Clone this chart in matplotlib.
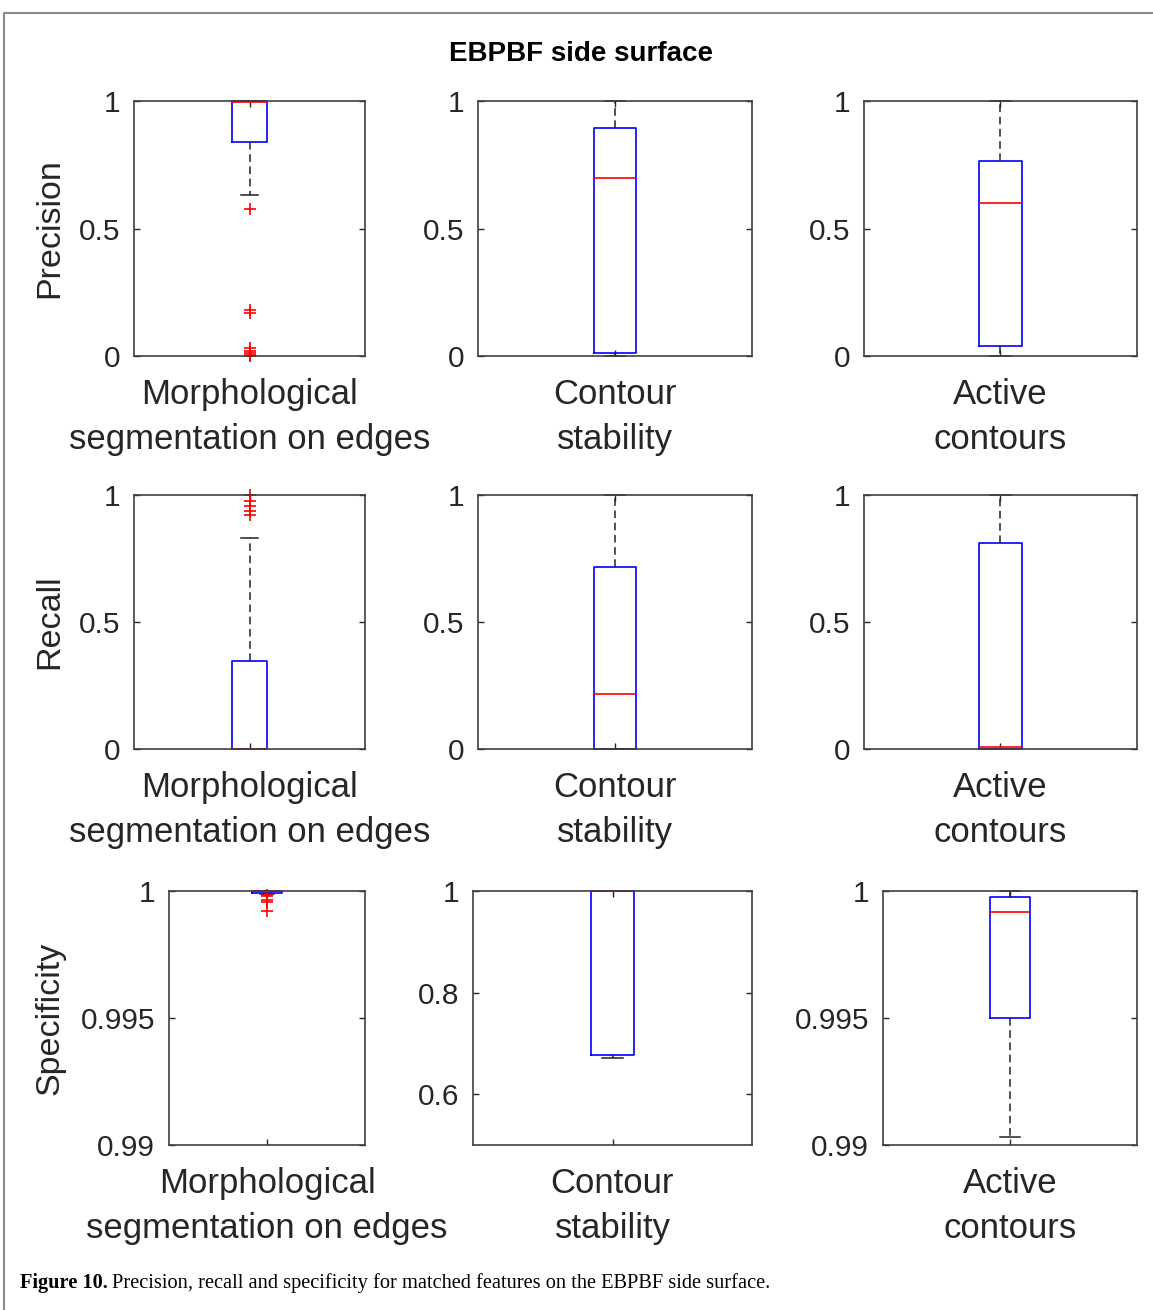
import numpy as np
import matplotlib.pyplot as plt
from matplotlib.lines import Line2D

# box statistics per metric, one entry per method
methods = ["Morphological\nsegmentation on edges", "Contour\nstability", "Active\ncontours"]
metrics = ["Precision", "Recall", "Specificity"]

prec_med = [0.995, 0.70, 0.60]
prec_q1 = [0.84, 0.012, 0.04]
prec_q3 = [1.0, 0.895, 0.765]
prec_lo = [0.63, 0.0, 0.0]
prec_hi = [1.0, 1.0, 1.0]
prec_out = [[0.575, 0.18, 0.17, 0.03, 0.02, 0.012, 0.005, 0.0], [], []]

rec_med = [0.0, 0.217, 0.008]
rec_q1 = [0.0, 0.0, 0.0]
rec_q3 = [0.345, 0.716, 0.81]
rec_lo = [0.0, 0.0, 0.0]
rec_hi = [0.83, 1.0, 1.0]
rec_out = [[1.0, 0.978, 0.957, 0.938, 0.92], [], []]

spec_med = [1.0, 1.0, 0.99916]
spec_q1 = [0.99993, 0.678, 0.9950]
spec_q3 = [1.0, 1.0, 0.99978]
spec_lo = [0.9999, 0.672, 0.99033]
spec_hi = [1.0, 1.0, 1.0]
spec_out = [[0.99985, 0.9998, 0.99965, 0.99958, 0.99922], [], []]

prec_ylim = [(0, 1), (0, 1), (0, 1)]
rec_ylim = [(0, 1), (0, 1), (0, 1)]
spec_ylim = [(0.99, 1), (0.5, 1), (0.99, 1)]
ticks_01 = [0, 0.5, 1]
tick_labels_01 = ["0", "0.5", "1"]
spec_ticks = [[0.99, 0.995, 1], [0.6, 0.8, 1], [0.99, 0.995, 1]]
spec_tick_labels = [["0.99", "0.995", "1"], ["0.6", "0.8", "1"], ["0.99", "0.995", "1"]]

W, H = 1153, 1310
fig = plt.figure(figsize=(W / 100, H / 100), dpi=100)
plt.rcParams['font.family'] = ['Liberation Sans', 'DejaVu Sans']

# axes boxes in pixels: (left, top, right, bottom)
rows_px = [(101, 356), (495, 749), (891, 1145)]
cols_px = [[(134, 365), (478, 752), (864, 1137)],
           [(134, 365), (478, 752), (864, 1137)],
           [(169, 365), (473, 752), (883, 1137)]]


def px_axes(l, t, r, b):
    return fig.add_axes([l / W, 1 - b / H, (r - l) / W, (b - t) / H])


def draw_box(ax, med, q1, q3, lo, hi, out, ylim, ticks, tlabels, xlabel):
    stats = [dict(med=med, q1=q1, q3=q3, whislo=lo, whishi=hi, fliers=out)]
    arts = ax.bxp(stats, positions=[1], widths=0.155, capwidths=0.075,
                  boxprops=dict(color='#0000ff', lw=1.2),
                  medianprops=dict(color='#ff0000', lw=1.2),
                  whiskerprops=dict(color='#222222', lw=1.1, linestyle=(0, (5, 3))),
                  capprops=dict(color='#222222', lw=1.1),
                  flierprops=dict(marker='+', markeredgecolor='#ff0000',
                                  markersize=9, markeredgewidth=1.2))
    for group in arts.values():
        for a in group:
            a.set_clip_on(False)
    ax.set_xlim(0.5, 1.5)
    ax.set_ylim(*ylim)
    ax.set_yticks(ticks)
    ax.set_yticklabels(tlabels, fontsize=21.5, color='#262626')
    ax.set_xticks([1])
    ax.set_xticklabels([xlabel], fontsize=25, color='#262626', linespacing=1.47)
    ax.tick_params(axis='both', direction='in', length=4, width=1,
                   color='#262626', top=True, right=True)
    ax.tick_params(axis='y', pad=10)
    ax.tick_params(axis='x', pad=16)
    for s in ax.spines.values():
        s.set_color('#404040')
        s.set_linewidth(1.2)


all_rows = [
    (prec_med, prec_q1, prec_q3, prec_lo, prec_hi, prec_out, prec_ylim,
     [ticks_01] * 3, [tick_labels_01] * 3),
    (rec_med, rec_q1, rec_q3, rec_lo, rec_hi, rec_out, rec_ylim,
     [ticks_01] * 3, [tick_labels_01] * 3),
    (spec_med, spec_q1, spec_q3, spec_lo, spec_hi, spec_out, spec_ylim,
     spec_ticks, spec_tick_labels),
]

for i, (med, q1, q3, lo, hi, out, ylims, tks, tls) in enumerate(all_rows):
    t, b = rows_px[i]
    for j in range(3):
        l, r = cols_px[i][j]
        ax = px_axes(l, t, r, b)
        draw_box(ax, med[j], q1[j], q3[j], lo[j], hi[j], out[j],
                 ylims[j], tks[j], tls[j], methods[j])
    fig.text(50 / W, 1 - (t + b) / 2 / H, metrics[i], rotation=90,
             ha='center', va='center', fontsize=24.5, color='#262626')

fig.text(581 / W, 1 - 54 / H, "EBPBF side surface", ha='center', va='center',
         fontsize=20, fontweight='bold', family='Liberation Sans')

# outer frame (top and left edges)
fig.add_artist(Line2D([4 / W, 4 / W, 1.0], [0.0, 1 - 13 / H, 1 - 13 / H],
                      transform=fig.transFigure, color='#8a8a8a', lw=1.5))

# caption: bold label followed by the plain sentence
cap_y = 1 - 1283 / H
t1 = fig.text(20 / W, cap_y, "Figure 10.", ha='left', va='center',
              fontsize=14.7, fontweight='bold', family='Liberation Serif')
fig.canvas.draw()
bb = t1.get_window_extent()
fig.text(bb.x1 / W + 4 / W, cap_y,
         "Precision, recall and specificity for matched features on the EBPBF side surface.",
         ha='left', va='center', fontsize=14.7, family='Liberation Serif')

fig.savefig("out.png", dpi=100)
